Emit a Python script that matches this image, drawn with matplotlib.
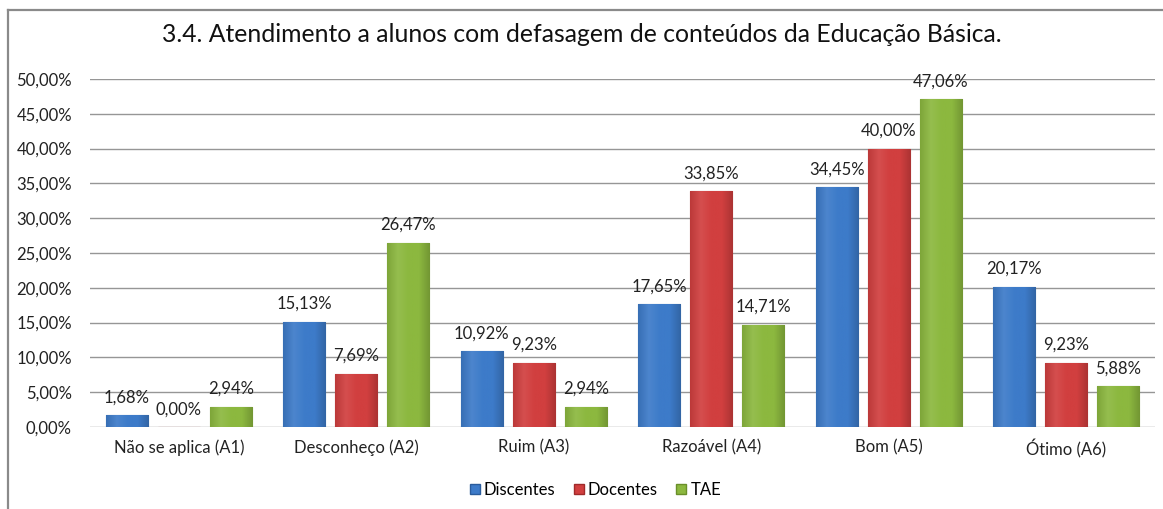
import numpy as np
import matplotlib.pyplot as plt
from matplotlib.lines import Line2D
from matplotlib.colors import LinearSegmentedColormap, to_rgb

categorias = ["Não se aplica (A1)", "Desconheço (A2)", "Ruim (A3)",
              "Razoável (A4)", "Bom (A5)", "Ótimo (A6)"]
discentes = [1.68, 15.13, 10.92, 17.65, 34.45, 20.17]
docentes = [0.00, 7.69, 9.23, 33.85, 40.00, 9.23]
tae = [2.94, 26.47, 2.94, 14.71, 47.06, 5.88]
series = ["Discentes", "Docentes", "TAE"]
cores = ["#3D7BC9", "#D13F3F", "#8CB83F"]
bordas = ["#2A5C9C", "#A02A2A", "#6A8F2A"]

plt.rcParams["font.family"] = ["Lato", "DejaVu Sans"]


def fmt(v):
    return f"{v:.2f}%".replace(".", ",")


def clarear(c, f):
    r, g, b = to_rgb(c)
    return (r + (1 - r) * f, g + (1 - g) * f, b + (1 - b) * f)


def escurecer(c, f):
    r, g, b = to_rgb(c)
    return (r * (1 - f), g * (1 - f), b * (1 - f))


fig = plt.figure(figsize=(11.63, 5.09), dpi=100)
ax = fig.add_axes([0.0774, 0.161, 0.9156, 0.684])

x = np.arange(len(categorias))
w = 0.237
passo = 0.293
grad = np.linspace(0, 1, 64).reshape(1, -1)
for i, (nome, vals) in enumerate(zip(series, [discentes, docentes, tae])):
    pos = x + (i - 1) * passo
    barras = ax.bar(pos, vals, width=w, color=cores[i], edgecolor=bordas[i],
                    linewidth=0.8, label=nome, zorder=3)
    cmap = LinearSegmentedColormap.from_list(
        nome, [escurecer(cores[i], 0.1), clarear(cores[i], 0.08),
               cores[i], cores[i], escurecer(cores[i], 0.18)])
    for b in barras:
        if b.get_height() <= 0:
            continue
        im = ax.imshow(grad, cmap=cmap, aspect="auto", zorder=3.1,
                       extent=[b.get_x(), b.get_x() + b.get_width(),
                               0, b.get_height()])
        im.set_clip_path(b)
    for p, v in zip(pos, vals):
        ax.text(p, v + 1.4, fmt(v), ha="center", va="bottom",
                fontsize=12, color="#222222", zorder=4)

ax.set_xlim(-0.5, len(categorias) - 0.5)
ax.set_ylim(0, 50)
ax.set_yticks(np.arange(0, 50.01, 5))
ax.set_yticklabels([fmt(t) for t in np.arange(0, 50.01, 5)], fontsize=12)
ax.set_xticks(x)
ax.set_xticklabels(categorias, fontsize=12)
ax.tick_params(axis="both", length=0, colors="#222222")
ax.tick_params(axis="x", pad=9)
ax.tick_params(axis="y", pad=13)
ax.grid(axis="y", color="#969696", linewidth=1, zorder=0)
for s in ax.spines.values():
    s.set_visible(False)

fig.suptitle("3.4. Atendimento a alunos com defasagem de conteúdos da Educação Básica.",
             x=0.5, y=0.955, fontsize=17.8, color="#111111")

handles = [Line2D([0], [0], marker="s", linestyle="", markersize=6.5,
                  markerfacecolor=cores[i], markeredgecolor=bordas[i])
           for i in range(3)]
fig.legend(handles, series, loc="center", bbox_to_anchor=(0.512, 0.037),
           ncol=3, frameon=False, fontsize=12, handlelength=0.6,
           handletextpad=0.25, columnspacing=1.1)

# moldura parcial do gráfico
fig.add_artist(Line2D([8 / 1163, 1.0], [1 - 10 / 509, 1 - 10 / 509],
                      transform=fig.transFigure, color="#8a8a8a", linewidth=1.6))
fig.add_artist(Line2D([8 / 1163, 8 / 1163], [0, 1 - 10 / 509],
                      transform=fig.transFigure, color="#8a8a8a", linewidth=1.6))

fig.savefig("out.png", dpi=100)
